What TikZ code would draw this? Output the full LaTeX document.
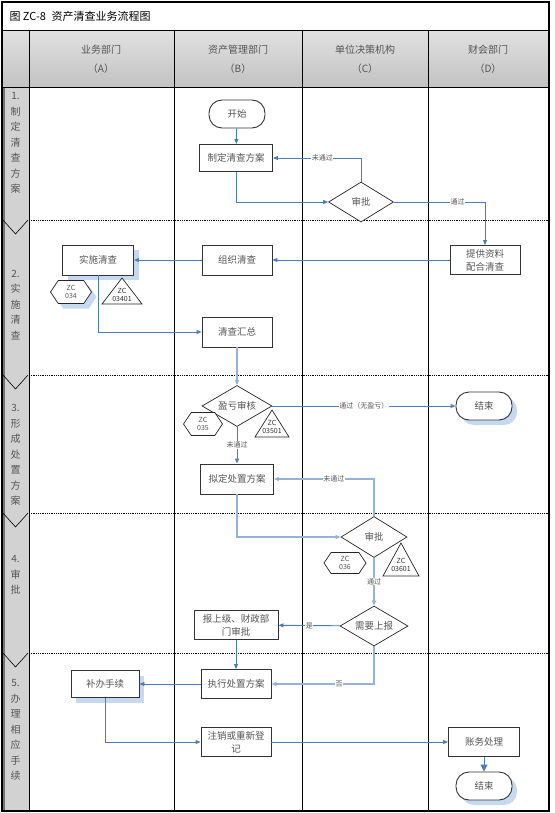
\documentclass[tikz,border=0pt]{standalone}
\usepackage{fontspec}
\setmainfont{Noto Sans CJK SC}
\usetikzlibrary{arrows.meta, calc, shapes.geometric, shapes.symbols, shadows}

\definecolor{flowblue}{HTML}{4A7EBB}
\definecolor{flowlight}{HTML}{95B3D7}
\definecolor{shadowblue}{HTML}{C6D9F1}
\definecolor{lanegray}{HTML}{D2D2D2}
\definecolor{txtgray}{HTML}{555555}

\tikzset{
	box/.style={draw=black!80, line width=0.9pt, fill=white, minimum width=72pt, minimum height=29pt,
		inner sep=1pt, align=center, font=\fontsize{9.5}{13}\selectfont, text=txtgray},
	term/.style={box, rounded corners=13pt, minimum width=56pt, minimum height=28pt},
	decide/.style={diamond, draw=black!85, line width=0.7pt, fill=white, aspect=1.6, inner sep=0pt,
		minimum width=66pt, minimum height=41pt, font=\fontsize{9.5}{11}\selectfont, text=txtgray},
	blueshadow/.style={drop shadow={shadow xshift=5pt, shadow yshift=-5pt, fill=shadowblue, opacity=1}},
	hexa/.style={signal, signal to=west and east, signal pointer angle=112, draw=black!85, line width=0.7pt,
		fill=white, inner sep=0pt, minimum width=41pt, minimum height=23pt, align=center,
		font=\fontsize{7}{8.5}\selectfont, text=txtgray},
	tritext/.style={inner sep=0pt, align=center, font=\fontsize{7}{8.5}\selectfont, text=black!80},
	tri/.style={draw=black!85, line width=0.7pt, fill=white},
	head/.style={align=center, font=\fontsize{10}{19}\selectfont, text=txtgray},
	stage/.style={align=center, font=\fontsize{10}{15.5}\selectfont, text=txtgray},
	flow/.style={draw=flowblue, line width=0.9pt, -{Triangle[length=5pt,width=4pt]}},
	flowlt/.style={flow, draw=flowlight, line width=1.2pt},
	lbl/.style={fill=white, inner sep=0.5pt, font=\fontsize{7}{8}\selectfont, text=txtgray}
}

\begin{document}
\begin{tikzpicture}[x=1pt, y=-1pt]
	\useasboundingbox (0,0) rectangle (554,813);

	% frame, header and lanes
	\fill[white] (0,0) rectangle (554,813);
	\shade[top color=black!12, bottom color=black!24] (2,31) rectangle (549,88);
	\fill[lanegray] (2,88) rectangle (29,811);
	\draw[black!55, line width=1.5pt] (4,88) -- (4,811);
	\foreach \y in {220,375,513,653} {
		\draw[densely dotted, line width=0.8pt] (29,\y) -- (549,\y);
		\draw[line width=0.6pt] (3,\y) -- (15.5,\y+14) -- (28,\y);
	}
	\foreach \x in {29,174,302,428}
		\draw[line width=1pt] (\x,31) -- (\x,811);
	\draw[line width=1pt] (2,31) -- (549,31) (2,88) -- (549,88);
	\draw[line width=1.2pt] (2,2) rectangle (549,811);

	\node[anchor=west, font=\fontsize{11}{13}\selectfont] (title) at (6,16) {图 ZC-8\enspace 资产清查业务流程图};

	\node[head] (hA) at (101,59) {业务部门\\（A）};
	\node[head] (hB) at (238,59) {资产管理部门\\（B）};
	\node[head] (hC) at (365,59) {单位决策机构\\（C）};
	\node[head] (hD) at (488,59) {财会部门\\（D）};

	\node[stage] (s1) at (15.5,143) {1.\\制\\定\\清\\查\\方\\案};
	\node[stage] (s2) at (15.5,305) {2.\\实\\施\\清\\查};
	\node[stage] (s3) at (15.5,455) {3.\\形\\成\\处\\置\\方\\案};
	\node[stage] (s4) at (15.5,575) {4.\\审\\批};
	\node[stage] (s5) at (15.5,730) {5.\\办\\理\\相\\应\\手\\续};

	% steps
	\node[term] (start) at (237,114) {开始};
	\node[box, minimum width=73pt, minimum height=27pt] (plan) at (236,158) {制定清查方案};
	\node[decide, minimum width=65pt, minimum height=40pt] (audit1) at (361,202) {审批};
	\node[box, minimum width=70pt] (provide) at (485,260) {提供资料\\配合清查};
	\node[box, minimum width=70pt, minimum height=30pt] (org) at (237,260) {组织清查};
	\node[box, minimum width=71pt, minimum height=30pt, blueshadow] (impl) at (98,260) {实施清查};
	\node[hexa, blueshadow] (zc034) at (71,292) {ZC\\034};
	\node[tritext] (zc03401) at (122,295) {ZC\\03401};
	\draw[tri] ($(zc03401)+(0,-17)$) -- ($(zc03401)+(20,9)$) -- ($(zc03401)+(-20,9)$) -- cycle;
	\node[tritext] at (zc03401) {ZC\\03401};
	\node[box, minimum width=70pt, minimum height=30pt] (summary) at (237,332) {清查汇总};

	\node[decide, minimum width=70pt] (check) at (237,406) {盈亏审核};
	\node[hexa, minimum width=39pt] (zc035) at (203,424) {ZC\\035};
	\node[tritext] (zc03501) at (272,427) {ZC\\03501};
	\draw[tri] ($(zc03501)+(0,-17)$) -- ($(zc03501)+(17,10)$) -- ($(zc03501)+(-17,10)$) -- cycle;
	\node[tritext] at (zc03501) {ZC\\03501};
	\node[term, blueshadow] (end1) at (484,406) {结束};
	\node[box, minimum width=73pt, minimum height=30pt] (draft) at (237,479) {拟定处置方案};

	\node[decide] (audit2) at (374,537) {审批};
	\node[hexa, minimum width=42pt, minimum height=21pt] (zc036) at (345,563) {ZC\\036};
	\node[tritext] (zc03601) at (401,565) {ZC\\03601};
	\draw[tri] ($(zc03601)+(0,-22)$) -- ($(zc03601)+(18,11)$) -- ($(zc03601)+(-18,11)$) -- cycle;
	\node[tritext] at (zc03601) {ZC\\03601};
	\node[decide, minimum width=68pt, minimum height=40pt] (report) at (374,626) {需要上报};
	\node[box, minimum width=84pt] (upper) at (236,625) {报上级、财政部\\门审批};

	\node[box, minimum width=70pt] (exec) at (236,684) {执行处置方案};
	\node[box, minimum width=68pt, minimum height=27pt, blueshadow] (supp) at (105,684) {补办手续};
	\node[box, minimum width=70pt] (cancel) at (236,742) {注销或重新登\\记};
	\node[box, minimum width=71pt] (acct) at (484,742) {账务处理};
	\node[term, blueshadow] (end2) at (484,786) {结束};

	% connectors
	\draw[flow] (start) -- (plan);
	\draw[flow] (plan.south) |- (audit1.west);
	\draw[flow] (audit1.north) |- (plan.east) node[lbl, pos=0.72] {未通过};
	\draw[flow] (audit1.east) -| (provide.north) node[lbl, pos=0.35] {通过};
	\draw[flow] (provide) -- (org);
	\draw[flow] (org) -- (impl);
	\draw[flow] (impl.south) |- (summary.west);
	\draw[flowlt] (summary) -- (check);
	\draw[flow] (check) -- (end1) node[lbl, midway] {通过（无盈亏）};
	\draw[flow] (check) -- (draft) node[lbl, midway] {未通过};
	\draw[flowlt] (draft.south) |- (audit2.west);
	\draw[flowlt] (audit2.north) |- (draft.east) node[lbl, pos=0.7] {未通过};
	\draw[flowlt] (audit2) -- (report) node[lbl, midway] {通过};
	\draw[flow] (report) -- (upper) node[lbl, midway] {是};
	\draw[flow] (upper) -- (exec);
	\draw[flowlt] (report.south) |- (exec.east) node[lbl, pos=0.67] {否};
	\draw[flow] (exec) -- (supp);
	\draw[flow] (supp.south) |- (cancel.west);
	\draw[flow] (cancel) -- (acct);
	\draw[flow, -{Triangle[length=7pt,width=7pt]}] (acct) -- (end2);
\end{tikzpicture}
\end{document}
